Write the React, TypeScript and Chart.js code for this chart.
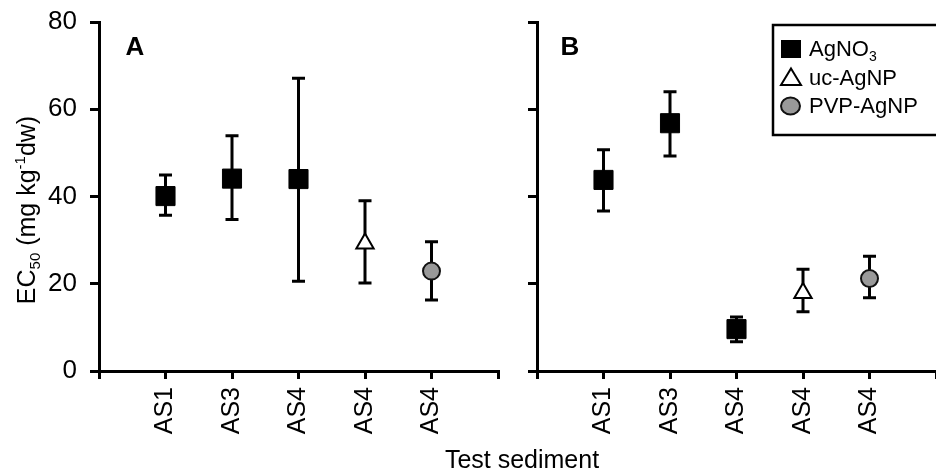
import React, { useEffect, useRef } from 'react';
import { Chart, registerables } from 'chart.js';

Chart.register(...registerables);

const FONT = '"Liberation Sans", Arial, Helvetica, sans-serif';

// Category (tick) labels on the x axes, positions 1..5
const sediments = ['AS1', 'AS3', 'AS4', 'AS4', 'AS4'];
const xTickValues = [0, 1, 2, 3, 4, 5, 6];
const yTickValues = [0, 20, 40, 60, 80];
const seriesNames = ['AgNO3', 'uc-AgNP', 'PVP-AgNP'];

// Panel A
const aAgNO3X = [1, 2, 3];
const aAgNO3 = [40.1, 44.1, 44.0];
const aAgNO3Low = [35.7, 34.7, 20.6];
const aAgNO3High = [44.9, 53.9, 67.1];
const aUcX = [4];
const aUc = [29.2];
const aUcLow = [20.2];
const aUcHigh = [39.0];
const aPvpX = [5];
const aPvp = [22.9];
const aPvpLow = [16.3];
const aPvpHigh = [29.6];

// Panel B
const bAgNO3X = [1, 2, 3];
const bAgNO3 = [43.8, 56.8, 9.6];
const bAgNO3Low = [36.7, 49.3, 6.7];
const bAgNO3High = [50.7, 64.0, 12.4];
const bUcX = [4];
const bUc = [17.9];
const bUcLow = [13.6];
const bUcHigh = [23.3];
const bPvpX = [5];
const bPvp = [21.2];
const bPvpLow = [16.8];
const bPvpHigh = [26.3];

const pts = (xs: number[], ys: number[]) => xs.map((x, i) => ({ x, y: ys[i] }));

function makeDatasets(
  agX: number[], ag: number[], agL: number[], agH: number[],
  ucX: number[], uc: number[], ucL: number[], ucH: number[],
  pvX: number[], pv: number[], pvL: number[], pvH: number[]
) {
  return [
    {
      label: seriesNames[0],
      data: pts(agX, ag),
      errLow: agL,
      errHigh: agH,
      pointStyle: 'rect',
      pointRadius: 13.5,
      pointHoverRadius: 13.5,
      backgroundColor: '#000',
      borderColor: '#000',
      borderWidth: 1,
      showLine: false,
    },
    {
      label: seriesNames[1],
      data: pts(ucX, uc),
      errLow: ucL,
      errHigh: ucH,
      pointStyle: 'triangle',
      pointRadius: 10,
      pointHoverRadius: 10,
      backgroundColor: '#fff',
      borderColor: '#000',
      borderWidth: 2,
      showLine: false,
    },
    {
      label: seriesNames[2],
      data: pts(pvX, pv),
      errLow: pvL,
      errHigh: pvH,
      pointStyle: 'circle',
      pointRadius: 8.5,
      pointHoverRadius: 8.5,
      backgroundColor: '#999999',
      borderColor: '#111',
      borderWidth: 2,
      showLine: false,
    },
  ];
}

const errorBarPlugin = {
  id: 'errorBars',
  beforeDatasetsDraw(chart: any) {
    const ctx = chart.ctx;
    const xs = chart.scales.x;
    const ys = chart.scales.y;
    ctx.save();
    ctx.strokeStyle = '#000';
    ctx.lineWidth = 3;
    ctx.lineCap = 'butt';
    chart.data.datasets.forEach((ds: any) => {
      ds.data.forEach((p: any, i: number) => {
        const px = xs.getPixelForValue(p.x);
        const pl = ys.getPixelForValue(ds.errLow[i]);
        const ph = ys.getPixelForValue(ds.errHigh[i]);
        const cap = 6.5;
        ctx.beginPath();
        ctx.moveTo(px, pl);
        ctx.lineTo(px, ph);
        ctx.moveTo(px - cap, pl);
        ctx.lineTo(px + cap, pl);
        ctx.moveTo(px - cap, ph);
        ctx.lineTo(px + cap, ph);
        ctx.stroke();
      });
    });
    ctx.restore();
  },
};

type Part = { t: string; size: number; dy: number; bold?: boolean };

function partFont(p: Part) {
  return `${p.bold ? 'bold ' : ''}${p.size}px ${FONT}`;
}

function drawParts(ctx: CanvasRenderingContext2D, parts: Part[], x: number, y: number, align: 'left' | 'center') {
  let total = 0;
  parts.forEach((p) => {
    ctx.font = partFont(p);
    total += ctx.measureText(p.t).width;
  });
  let cx = align === 'center' ? x - total / 2 : x;
  ctx.textAlign = 'left';
  ctx.textBaseline = 'alphabetic';
  parts.forEach((p) => {
    ctx.font = partFont(p);
    ctx.fillText(p.t, cx, y + p.dy);
    cx += ctx.measureText(p.t).width;
  });
}

function makeDecorPlugin(panel: 'A' | 'B') {
  return {
    id: 'decor' + panel,
    afterDraw(chart: any) {
      const ctx: CanvasRenderingContext2D = chart.ctx;
      ctx.save();
      ctx.fillStyle = '#000';
      ctx.textAlign = 'center';
      ctx.textBaseline = 'middle';
      ctx.font = `bold 26px ${FONT}`;
      const ca = chart.chartArea;
      ctx.fillText(panel, ca.left + (panel === 'A' ? 36 : 33), 48);

      if (panel === 'A') {
        // Y-axis title
        ctx.save();
        ctx.translate(26, 210);
        ctx.rotate(-Math.PI / 2);
        drawParts(ctx, [
          { t: 'EC', size: 25, dy: 0 },
          { t: '50', size: 15, dy: 5 },
          { t: ' (mg kg', size: 25, dy: 0 },
          { t: '-1', size: 15, dy: -10 },
          { t: 'dw)', size: 25, dy: 0 },
        ], 0, 9, 'center');
        ctx.restore();
      } else {
        // X-axis title
        ctx.fillStyle = '#000';
        drawParts(ctx, [{ t: 'Test sediment', size: 25, dy: 0 }], 522, 468, 'center');

        // Legend
        ctx.lineWidth = 2.5;
        ctx.strokeStyle = '#000';
        ctx.strokeRect(773, 25, 180, 110);
        ctx.fillStyle = '#000';
        ctx.fillRect(781, 40, 20, 18);
        ctx.beginPath();
        ctx.moveTo(791, 68.5);
        ctx.lineTo(801, 85);
        ctx.lineTo(781, 85);
        ctx.closePath();
        ctx.fillStyle = '#fff';
        ctx.fill();
        ctx.lineWidth = 2;
        ctx.stroke();
        ctx.beginPath();
        ctx.ellipse(790.5, 106, 9.5, 8.5, 0, 0, Math.PI * 2);
        ctx.fillStyle = '#999999';
        ctx.fill();
        ctx.strokeStyle = '#111';
        ctx.stroke();
        ctx.fillStyle = '#000';
        drawParts(ctx, [
          { t: 'AgNO', size: 22, dy: 0 },
          { t: '3', size: 14, dy: 5 },
        ], 809, 55.5, 'left');
        drawParts(ctx, [{ t: seriesNames[1], size: 22, dy: 0 }], 809, 85, 'left');
        drawParts(ctx, [{ t: seriesNames[2], size: 22, dy: 0 }], 809, 113, 'left');
      }
      ctx.restore();
    },
  };
}

function makeConfig(panel: 'A' | 'B', datasets: any[]) {
  const isA = panel === 'A';
  return {
    type: 'scatter' as const,
    data: { datasets },
    options: {
      animation: false as const,
      responsive: false,
      maintainAspectRatio: false,
      events: [],
      layout: { autoPadding: false, padding: { left: 0, right: isA ? 438 : 0, top: 22, bottom: 0 } },
      plugins: { legend: { display: false }, tooltip: { enabled: false } },
      scales: {
        x: {
          type: 'linear' as const,
          min: 0,
          max: 6,
          afterFit: (s: any) => {
            s.height = 104;
            s.paddingLeft = 0;
            s.paddingRight = 0;
          },
          afterBuildTicks: (s: any) => { s.ticks = xTickValues.map((v) => ({ value: v })); },
          ticks: {
            autoSkip: false,
            maxRotation: 90,
            minRotation: 90,
            padding: 8,
            color: '#000',
            font: { family: FONT, size: 25 },
            callback: (v: any) => sediments[Number(v) - 1] ?? '',
          },
          grid: { drawOnChartArea: false, drawTicks: true, tickLength: 8, color: '#000', lineWidth: 3 },
          border: { display: true, color: '#000', width: 3 },
        },
        y: {
          type: 'linear' as const,
          min: 0,
          max: 80,
          afterFit: (s: any) => {
            s.width = isA ? 99 : 537;
            s.paddingTop = 0;
            s.paddingBottom = 0;
          },
          afterBuildTicks: (s: any) => { s.ticks = yTickValues.map((v) => ({ value: v })); },
          ticks: {
            padding: 13,
            color: '#000',
            font: { family: FONT, size: 26 },
            callback: (v: any) => (isA ? String(v) : ''),
          },
          grid: { drawOnChartArea: false, drawTicks: true, tickLength: 9, color: '#000', lineWidth: 3 },
          border: { display: true, color: '#000', width: 3 },
        },
      },
    },
    plugins: [errorBarPlugin, makeDecorPlugin(panel)],
  };
}

export default function App() {
  const refA = useRef<HTMLCanvasElement | null>(null);
  const refB = useRef<HTMLCanvasElement | null>(null);

  useEffect(() => {
    if (!refA.current || !refB.current) return;
    const dsA = makeDatasets(
      aAgNO3X, aAgNO3, aAgNO3Low, aAgNO3High,
      aUcX, aUc, aUcLow, aUcHigh,
      aPvpX, aPvp, aPvpLow, aPvpHigh
    );
    const dsB = makeDatasets(
      bAgNO3X, bAgNO3, bAgNO3Low, bAgNO3High,
      bUcX, bUc, bUcLow, bUcHigh,
      bPvpX, bPvp, bPvpLow, bPvpHigh
    );
    const cA = new Chart(refA.current, makeConfig('A', dsA) as any);
    const cB = new Chart(refB.current, makeConfig('B', dsB) as any);
    return () => {
      cA.destroy();
      cB.destroy();
    };
  }, []);

  const cs: React.CSSProperties = { position: 'absolute', left: 0, top: 0, width: 936, height: 475 };
  return (
    <div style={{ position: 'fixed', left: 0, top: 0, width: 936, height: 475, background: '#fff' }}>
      <canvas ref={refA} width={936} height={475} style={cs} />
      <canvas ref={refB} width={936} height={475} style={cs} />
    </div>
  );
}
